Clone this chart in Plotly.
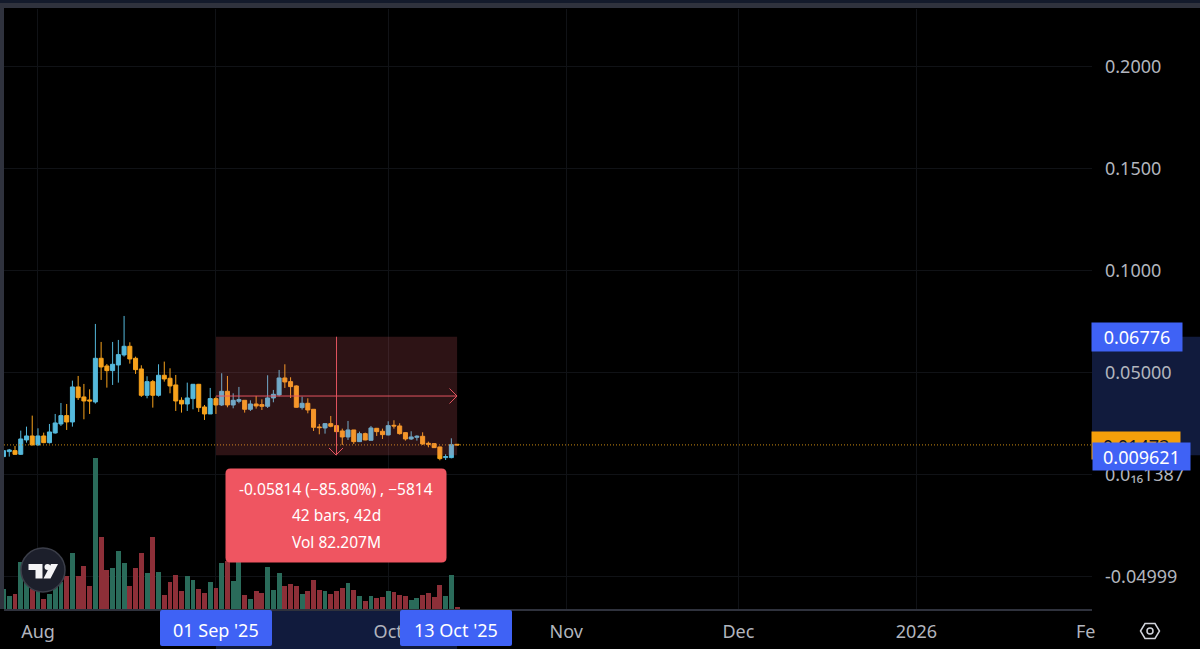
import pandas as pd
import plotly.graph_objects as go

W, H = 1200, 649
dates = [d.strftime("%Y-%m-%d") for d in pd.date_range("2025-07-26", "2025-10-13")]

opens = [.00899,.01144,.01193,.01013,.01716,.01912,.01471,.01912,.01585,.02059,.02500,.02909,.02598,.04314,.03824,.03677,.03578,.05719,.05343,.05114,.05392,.05882,.06307,.05719,.05196,.03905,.04575,.03905,.04886,.04739,.04412,.03660,.03480,.03742,.04444,.03333,.02990,.03742,.03431,
         .04101,.03431,.03611,.03660,.03219,.03480,.03448,.03366,.03775,.03922,.04755,.04575,.04363,.03301,.03513,.03219,.02353,.02304,.02516,.02418,.02157,.01863,.02206,.01634,.02026,.01699,.02288,.02141,.01961,.02435,.02402,.02075,.01765,.01846,.01895,.01552,.01536,.01373,.00850,.00850,.01503]
highs = [.01193,.01275,.01422,.02173,.02369,.02909,.02288,.02075,.02500,.02990,.03529,.03480,.04624,.04853,.04461,.04199,.07402,.06520,.05441,.06520,.06618,.07794,.06503,.05801,.05376,.04837,.04657,.05425,.05556,.05229,.04902,.03807,.04526,.04461,.04461,.03431,.04265,.03840,.04984,
         .04853,.04003,.04314,.03660,.03660,.03873,.03709,.04886,.04167,.05147,.05425,.04788,.04395,.03840,.03758,.03219,.02500,.02533,.02892,.02484,.02271,.02647,.02206,.02124,.02075,.02402,.02304,.02271,.02631,.02680,.02533,.02092,.02141,.01944,.02092,.01634,.01552,.01389,.01013,.01797,.01503]
lows = [.00899,.00899,.00980,.00980,.01585,.01454,.01438,.01552,.01536,.02026,.02402,.02206,.02369,.03677,.02729,.02990,.03497,.04657,.04281,.04412,.04526,.05801,.05458,.04951,.03824,.03758,.03301,.03840,.04575,.04003,.03137,.03056,.03137,.03219,.03088,.02696,.02990,.02990,.03382,
        .03317,.03268,.03513,.03056,.03137,.03252,.03186,.03284,.03562,.03856,.04265,.03775,.03301,.03203,.03023,.02157,.01993,.02026,.02337,.02092,.01471,.01716,.01520,.01618,.01699,.01699,.01912,.01765,.01944,.02271,.01977,.01683,.01716,.01683,.01471,.01356,.01324,.00719,.00735,.00817,.01471]
closes = [.01193,.01225,.01013,.01765,.01912,.01471,.01912,.01585,.02108,.02549,.02909,.02598,.04314,.03791,.03627,.03627,.05719,.05294,.05114,.05425,.05899,.06307,.05686,.05163,.03905,.04575,.03905,.04886,.04706,.04363,.03627,.03480,.03775,.04444,.03301,.02990,.03742,.03431,.04101,
          .03431,.03660,.03693,.03219,.03480,.03382,.03366,.03775,.03954,.04755,.04559,.04330,.03317,.03513,.03186,.02337,.02320,.02516,.02386,.02124,.01863,.02206,.01634,.02026,.01716,.02304,.02124,.01977,.02418,.02402,.02026,.01765,.01863,.01895,.01520,.01503,.01340,.00801,.00899,.01487,.01471]
volumes_m = [1.90,1.20,1.42,4.49,2.53,1.90,1.74,0.95,1.42,2.21,2.53,3.13,5.31,3.13,4.08,2.18,14.28,6.86,3.70,3.89,5.50,4.39,2.18,3.89,5.31,3.41,6.79,3.54,1.33,2.59,3.22,1.67,3.13,2.75,1.90,1.52,2.59,1.99,4.39,
             4.58,2.69,4.42,1.33,0.92,1.74,1.52,3.95,1.83,3.41,2.15,2.34,2.18,1.42,1.74,2.75,1.83,1.67,1.42,1.74,1.99,2.50,1.83,1.20,0.79,1.20,1.04,1.11,1.67,1.58,1.33,1.20,0.88,1.04,1.33,1.52,1.14,2.28,1.23,3.25,0.16]

price_ticks = [0.2, 0.15, 0.1, 0.05, 1.387e-17, -0.04999]
price_labels = ["0.2000", "0.1500", "0.1000", "0.05000", "0.0₁₆1387", "-0.04999"]
date_ticks = ["2025-08-01", "2025-09-01", "2025-10-01", "2025-11-01", "2025-12-01", "2026-01-01"]
date_labels = ["Aug", "", "Oct", "Nov", "Dec", "2026"]

range_start, range_end = "2025-09-01", "2025-10-13"
range_mid = "2025-09-22"
range_top, range_bottom, last_price = 0.06776, 0.009621, 0.01473
range_center = 0.03869

UP, DOWN = "#55b9dc", "#f7a21b"
VUP, VDOWN = "#2a6b5a", "#8d2f38"
TXT = "#b2b5be"
BLUE = "#3f62f5"
NAVY = "#111b3d"
RED = "#e2545f"
GRID = "#101216"
FRAME = "#2f323d"
FONT = "Noto Sans"


def px(x):
    return x / W


def py(y):
    return 1 - y / H


def rrect(x0, y0, x1, y1, r):
    a, b, c, d = px(x0), py(y0), px(x1), py(y1)
    rx, ry = r / W, r / H
    return (f"M{a+rx},{b} L{c-rx},{b} Q{c},{b} {c},{b-ry} L{c},{d+ry} Q{c},{d} {c-rx},{d} "
            f"L{a+rx},{d} Q{a},{d} {a},{d+ry} L{a},{b-ry} Q{a},{b} {a+rx},{b} Z")


def poly(points):
    return "M" + " L".join(f"{px(x)},{py(y)}" for x, y in points) + " Z"


def pbox(x0, y0, x1, y1, color, r=0, layer="above"):
    if r:
        return dict(type="path", path=rrect(x0, y0, x1, y1, r), xref="paper", yref="paper",
                    fillcolor=color, line_width=0, layer=layer)
    return dict(type="rect", x0=px(x0), x1=px(x1), y0=py(y1), y1=py(y0), xref="paper", yref="paper",
                fillcolor=color, line_width=0, layer=layer)


vol_colors = [VUP if c >= o else VDOWN for o, c in zip(opens, closes)]

fig = go.Figure()
fig.add_trace(go.Candlestick(
    x=dates, open=opens, high=highs, low=lows, close=closes, whiskerwidth=0,
    increasing=dict(line=dict(color=UP, width=1), fillcolor=UP),
    decreasing=dict(line=dict(color=DOWN, width=1), fillcolor=DOWN),
    hoverinfo="skip", showlegend=False))
fig.add_trace(go.Bar(x=dates, y=volumes_m, yaxis="y2", marker=dict(color=vol_colors, line_width=0),
                     width=0.85 * 86400000, hoverinfo="skip", showlegend=False))

shapes = [
    # window frame
    pbox(0, 0, W, 3, "#131a2b"),
    pbox(0, 3, W, 8, FRAME),
    pbox(0, 3, 4, 609, FRAME),
    # highlighted bands on the axes
    dict(type="rect", xref="paper", yref="y", x0=px(1092), x1=1, y0=range_bottom, y1=range_top,
         fillcolor=NAVY, line_width=0, layer="below"),
    dict(type="rect", xref="x", yref="paper", x0=range_start, x1=range_end, y0=py(649), y1=py(610),
         fillcolor=NAVY, line_width=0, layer="below"),
    # last price line
    dict(type="line", xref="x domain", yref="y", x0=0, x1=1, y0=last_price, y1=last_price,
         line=dict(color="#c98a12", width=1, dash="1px,2px"), layer="above"),
    # measure rectangle
    dict(type="rect", xref="x", yref="y", x0=range_start, x1=range_end, y0=range_bottom, y1=range_top,
         fillcolor="rgba(240,100,110,0.19)", line_width=0, layer="above"),
    dict(type="line", xref="x", yref="y", x0=range_start, x1=range_end, y0=range_center, y1=range_center,
         line=dict(color=RED, width=1), layer="above"),
    dict(type="line", xref="x", yref="y", x0=range_mid, x1=range_mid, y0=range_bottom, y1=range_top,
         line=dict(color=RED, width=1), layer="above"),
    # arrow heads
    dict(type="path", xref="paper", yref="paper", layer="above", line=dict(color=RED, width=1),
         path=f"M{px(449.5)},{py(388.5)} L{px(457)},{py(396)} L{px(449.5)},{py(403.5)}"),
    dict(type="path", xref="paper", yref="paper", layer="above", line=dict(color=RED, width=1),
         path=f"M{px(329)},{py(448)} L{px(336)},{py(455)} L{px(343)},{py(448)}"),
    # measure tooltip
    pbox(225.5, 468.5, 446.5, 562.5, "#ef5561", r=5),
    # date flags
    pbox(160, 610, 272, 646, BLUE, r=2),
    pbox(400, 610, 512, 646, BLUE, r=2),
    # logo
    dict(type="circle", xref="paper", yref="paper", layer="above", x0=px(21), x1=px(65), y0=py(592), y1=py(548),
         fillcolor="#1c1f2b", line=dict(color="#3b3e49", width=1.5)),
    dict(type="path", xref="paper", yref="paper", layer="above", fillcolor="#f4f4f6", line_width=0,
         path=poly([(28.5, 564), (42.5, 564), (42.5, 578.5), (35.5, 578.5), (35.5, 570), (28.5, 570)])),
    dict(type="circle", xref="paper", yref="paper", layer="above", x0=px(44.5), x1=px(50.5), y0=py(570), y1=py(564),
         fillcolor="#f4f4f6", line_width=0),
    dict(type="path", xref="paper", yref="paper", layer="above", fillcolor="#f4f4f6", line_width=0,
         path=poly([(51, 564), (58, 564), (50.5, 578.5), (43.5, 578.5)])),
    # settings icon
    dict(type="path", xref="paper", yref="paper", layer="above", line=dict(color="#d1d4dc", width=1.5),
         path=poly([(1140.5, 631), (1145, 623.5), (1155, 623.5), (1159.5, 631), (1155, 638.5), (1145, 638.5)])),
    dict(type="circle", xref="paper", yref="paper", layer="above", x0=px(1147), x1=px(1153), y0=py(634), y1=py(628),
         line=dict(color="#d1d4dc", width=1.5)),
]


def label(text, x, y, size=18, color="#ffffff", anchor="center", **kw):
    return dict(text=text, x=px(x), y=py(y), xref="paper", yref="paper", showarrow=False, xanchor=anchor,
                yanchor="middle", font=dict(family=FONT, size=size, color=color), **kw)


annotations = [
    label("-0.05814 (−85.80%) , −5814", 336, 489, size=15.5),
    label("42 bars, 42d", 336, 515, size=15.5),
    label("Vol 82.207M", 336, 542, size=15.5),
    label("01 Sep '25", 216, 630),
    label("13 Oct '25", 456, 630),
    label("Fe", 1085.5, 631, color=TXT),
    label("0.01473", 1136, 445, color="#131722", width=88, height=27, bgcolor="#f59f0a", borderpad=0),
    label("0.06776", 1137, 337, width=90, height=28, bgcolor=BLUE, borderpad=0),
    label("0.009621", 1141, 456, width=97, height=27, bgcolor=BLUE, borderpad=0),
]

fig.update_layout(
    width=W, height=H, margin=dict(l=0, r=0, t=0, b=0), paper_bgcolor="#000000", plot_bgcolor="#000000",
    showlegend=False, shapes=shapes, annotations=annotations, bargap=0, boxgap=0,
    xaxis=dict(type="date", domain=[4 / W, 1092 / W], range=["2025-07-26 02:00", "2026-01-31 14:00"],
               tickmode="array", tickvals=date_ticks, ticktext=date_labels, showgrid=True, gridcolor=GRID,
               gridwidth=1, zeroline=False, rangeslider=dict(visible=False), ticks="",
               showline=True, linecolor=FRAME, linewidth=2, ticklabelstandoff=5,
               tickfont=dict(family=FONT, size=18, color=TXT), anchor="y"),
    yaxis=dict(domain=[1 - 609 / H, 1 - 9 / H], range=[-0.0657, 0.2284], side="right", tickmode="array",
               tickvals=price_ticks, ticktext=price_labels, showgrid=True, gridcolor=GRID, gridwidth=1,
               zeroline=False, ticks="", ticklabelstandoff=12, anchor="x",
               tickfont=dict(family=FONT, size=18, color=TXT)),
    yaxis2=dict(domain=[1 - 609 / H, 1 - 9 / H], overlaying="y", range=[0, 56.8], visible=False, anchor="x"),
)

fig.write_html("out.html", config=dict(displayModeBar=False),
               post_script="document.body.style.margin='0';document.body.style.overflow='hidden';")
